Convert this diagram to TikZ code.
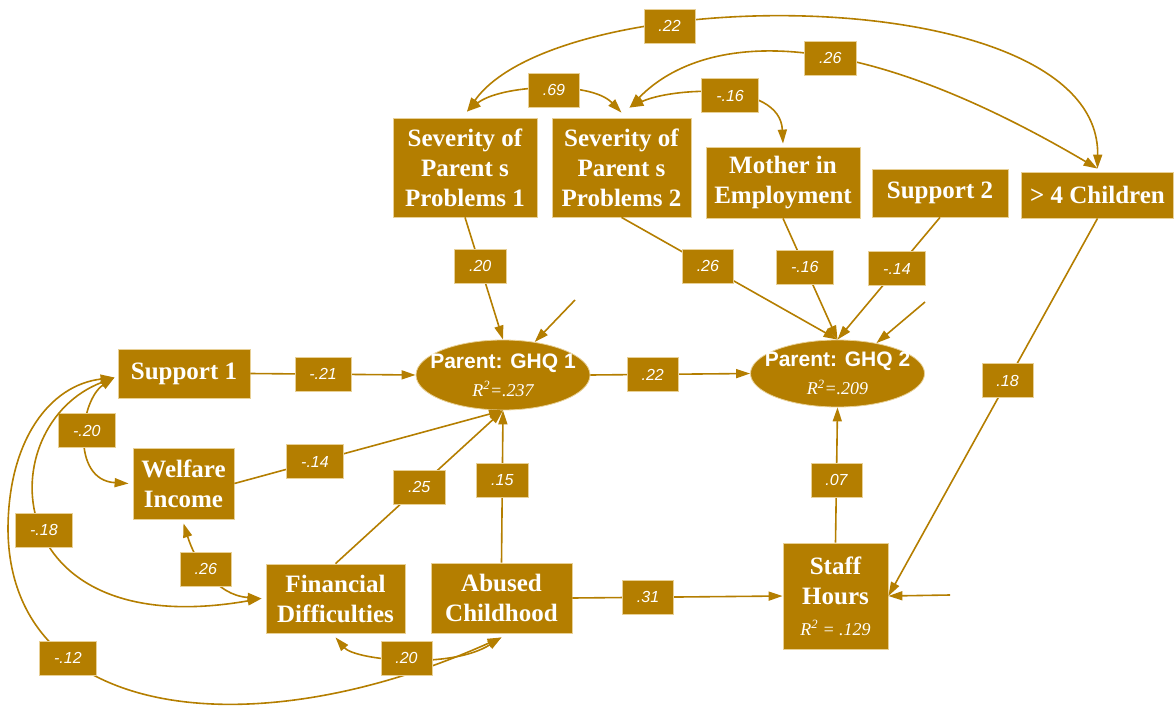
\documentclass[tikz,border=0pt]{standalone}
\usepackage{fontspec}
\setmainfont{Liberation Serif}
\setsansfont{Liberation Sans}
\usetikzlibrary{arrows.meta,shapes.geometric}
\definecolor{gold}{RGB}{180,126,0}
\definecolor{rim}{RGB}{232,208,150}

\begin{document}
\begin{tikzpicture}[x=1pt,y=1pt,
  >={Triangle[length=14pt,width=9pt]},
  box/.style={fill=gold,draw=rim,line width=0.8pt,text=white,align=center,
    inner sep=0pt,font=\bfseries\fontsize{25}{30}\selectfont},
  latent/.style={ellipse,fill=gold,draw=rim,line width=0.8pt,text=white,
    align=center,inner xsep=-13pt,inner ysep=-1pt,minimum width=174pt,minimum height=70pt,
    font=\fontsize{18}{28}\selectfont},
  coef/.style={fill=gold,draw=rim,line width=0.6pt,text=white,inner xsep=14.5pt,
    inner ysep=0pt,minimum height=34pt,font=\sffamily\itshape\fontsize{16}{16}\selectfont},
  onearrow/.style={draw=gold,line width=1.6pt,->},
  twoarrow/.style={draw=gold,line width=1.6pt,<->}
]
\useasboundingbox (0,0) rectangle (1174,-706);

% observed variables
\node[box,minimum width=144pt,minimum height=99pt] (sev1) at (465,-167.5) {Severity of\\Parent s\\Problems 1};
\node[box,minimum width=139pt,minimum height=99pt] (sev2) at (621.5,-167.5) {Severity of\\Parent s\\Problems 2};
\node[box,minimum width=154pt,minimum height=71pt] (mother) at (783,-182.5) {Mother in\\Employment};
\node[box,minimum width=136pt,minimum height=48pt] (sup2) at (940,-193) {Support 2};
\node[box,minimum width=152pt,minimum height=46pt] (kids) at (1097.5,-195) {> 4 Children};
\node[box,minimum width=132pt,minimum height=49pt] (sup1) at (184,-373.5) {Support 1};
\node[box,minimum width=101pt,minimum height=71pt] (welf) at (183.5,-483.5) {Welfare\\Income};
\node[box,minimum width=139pt,minimum height=69pt] (fin) at (335.5,-598.5) {Financial\\Difficulties};
\node[box,minimum width=141pt,minimum height=70pt] (abuse) at (501.5,-598) {Abused\\Childhood};
\node[box,minimum width=105pt,minimum height=106pt] (staff) at (835.5,-596)
  {Staff\\Hours\\[1pt]{\mdseries\itshape\fontsize{18}{18}\selectfont R\textsuperscript{2} = .129}};

% outcomes
\node[latent] (g1) at (503,-375)
  {{\sffamily\bfseries\fontsize{21}{28}\selectfont Parent: GHQ 1}\\{\itshape R\textsuperscript{2}=.237}};
\node[latent,minimum height=67pt] (g2) at (837.5,-373.5)
  {{\sffamily\bfseries\fontsize{21}{28}\selectfont Parent: GHQ 2}\\{\itshape R\textsuperscript{2}=.209}};

% residual terms
\coordinate (e1) at (575,-300);
\coordinate (e2) at (925,-302);
\coordinate (e3) at (950,-595);

% directed paths
\draw[onearrow] (sev1.south) -- node[coef,pos=0.4]{.20} (g1.north);
\draw[onearrow] (sev2.south) -- node[coef,pos=0.4]{.26} (g2.north);
\draw[onearrow] (mother.south) -- node[coef,pos=0.4]{-.16} (g2.north);
\draw[onearrow] (sup2.south) -- node[coef,pos=0.42]{-.14} (g2.north);
\draw[onearrow] (kids.south) -- node[coef,pos=0.43]{.18} (staff.east);
\draw[onearrow] (e1) -- (g1);
\draw[onearrow] (e2) -- (g2.38);
\draw[onearrow] (e3) -- (staff.east);
\draw[onearrow] (sup1.east) -- node[coef,pos=0.44]{-.21} (g1.west);
\draw[onearrow] (g1.east) -- node[coef,pos=0.39]{.22} (g2.west);
\draw[onearrow] (welf.east) -- node[coef,pos=0.3]{-.14} (g1.south);
\draw[onearrow] (fin.north) -- node[coef,pos=0.5]{.25} (g1.south);
\draw[onearrow] (abuse.north) -- node[coef,pos=0.54]{.15} (g1.south);
\draw[onearrow] (staff.north) -- node[coef,pos=0.46]{.07} (g2.south);
\draw[onearrow] (abuse.east) -- node[coef,pos=0.36]{.31} (staff.west);

% correlations
\draw[twoarrow] ([xshift=2pt,yshift=6pt]sev1.north) .. controls (500,-85) and (590,-80) ..
  node[coef,pos=0.55]{.69} ([yshift=5pt]sev2.north);
\draw[twoarrow] ([xshift=2pt,yshift=6pt]sev1.north) .. controls (560,20) and (1100,21) ..
  node[coef,pos=0.33]{.22} ([yshift=3pt]kids.north);
\draw[twoarrow] ([xshift=8pt,yshift=10pt]sev2.north) .. controls (690,-45) and (820,-5) ..
  node[coef,pos=0.6]{.26} ([yshift=3pt]kids.north);
\draw[twoarrow] ([xshift=8pt,yshift=10pt]sev2.north) .. controls (670,-88) and (780,-80) ..
  node[coef,pos=0.55]{-.16} ([yshift=3pt]mother.north);
\draw[twoarrow] ([xshift=-3pt,yshift=-4pt]sup1.west) .. controls (80,-400) and (70,-480) ..
  node[coef,pos=0.45]{-.20} ([xshift=-4pt]welf.west);
\draw[twoarrow] ([xshift=-3pt,yshift=-4pt]sup1.west) .. controls (-10,-425) and (-5,-645) ..
  node[coef,pos=0.52]{-.18} ([xshift=-4pt]fin.west);
\draw[twoarrow] ([xshift=-3pt,yshift=-4pt]sup1.west) .. controls (50,-385) and (8,-440) .. (8,-530)
  .. controls (10,-720) and (250,-750) .. node[coef,pos=0.3]{-.12} ([yshift=-4pt]abuse.south);
\draw[twoarrow] ([yshift=-4pt]welf.south) .. controls (195,-560) and (215,-595) ..
  node[coef,pos=0.45]{.26} ([xshift=-4pt]fin.west);
\draw[twoarrow] ([yshift=-4pt]fin.south) .. controls (355,-660) and (450,-670) ..
  node[coef,pos=0.5]{.20} ([yshift=-4pt]abuse.south);
\end{tikzpicture}
\end{document}
